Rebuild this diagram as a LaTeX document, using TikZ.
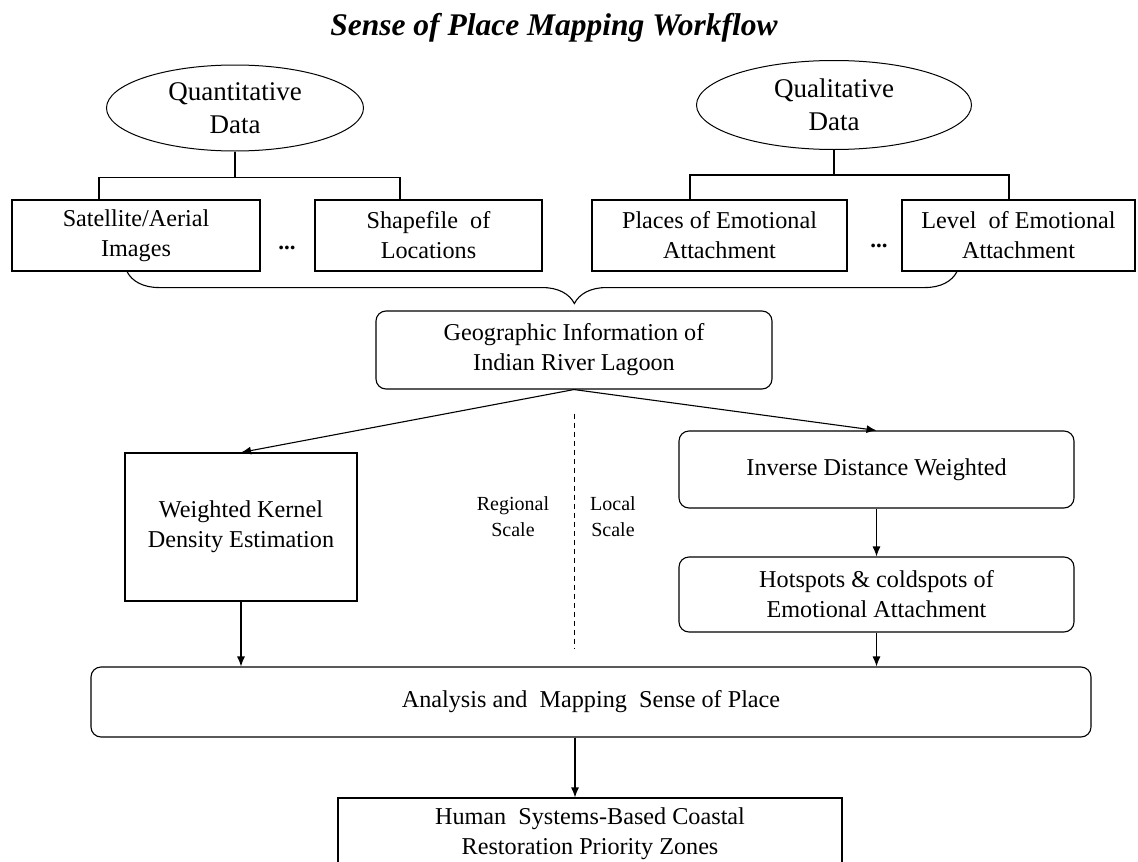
\documentclass[tikz,border=0pt]{standalone}
\usepackage{fontspec}
\setmainfont{Liberation Serif}
\usetikzlibrary{arrows.meta,shapes.geometric,decorations.pathreplacing}
\tikzset{
  heading/.style={
    text=black,
    font=\bfseries\itshape\fontsize{31.5}{36}\selectfont
  },
  bubble/.style={
    draw=black,
    ellipse,
    line width=1pt,
    inner sep=0pt,
    align=center,
    font=\fontsize{27}{33}\selectfont
  },
  source/.style={
    draw=black,
    line width=1.1pt,
    inner sep=0pt,
    minimum height=71pt,
    align=center,
    font=\fontsize{24.2}{30}\selectfont
  },
  stage/.style={
    source,
    rounded corners=10pt
  },
  gap/.style={
    font=\bfseries\fontsize{23}{30}\selectfont
  },
  scalelabel/.style={
    align=center,
    font=\fontsize{20}{26}\selectfont
  },
  link/.style={
    draw=black,
    line width=1.1pt
  },
  flow/.style={
    link,
    -{Latex[length=10pt,width=8pt]}
  },
  divider/.style={
    draw=black,
    line width=0.9pt,
    dash pattern=on 5pt off 4pt
  },
  bracket/.style={
    link,
    decorate,
    decoration={brace, mirror, amplitude=32pt, aspect=0.539}
  }
}

\begin{document}
\begin{tikzpicture}[x=1pt,y=-1pt]
  \clip (0,0) rectangle (1138,862);
  \fill[white] (0,0) rectangle (1138,862);

  \node[heading, anchor=base] (title) at (554,35) {Sense of Place Mapping Workflow};

  % data sources
  \node[bubble, minimum width=257pt, minimum height=86pt] (quant) at (235,108) {Quantitative\\Data};
  \node[bubble, minimum width=275pt, minimum height=89pt] (qual) at (834,105) {Qualitative\\Data};

  \node[source, minimum width=248pt] (sat) at (136,235.5) {Satellite/Aerial\\Images};
  \node[source, minimum width=227pt] (shp) at (428.5,235.5) {Shapefile\ \ of\\Locations};
  \node[source, minimum width=255pt] (plc) at (719.5,235.5) {Places of Emotional\\Attachment};
  \node[source, minimum width=233pt] (lvl) at (1018.5,235.5) {Level\ \ of Emotional\\Attachment};
  \node[gap, anchor=base] (quantdots) at (287,249) {...};
  \node[gap, anchor=base] (qualdots) at (879,247) {...};

  \draw[link] (quant.south) -- ++(0,26) coordinate (quantjoint);
  \draw[link] ([xshift=-37pt]sat.north) |- (quantjoint) -| ([xshift=-28.5pt]shp.north);
  \draw[link] (qual.south) -- ++(0,25) coordinate (qualjoint);
  \draw[link] ([xshift=-29.5pt]plc.north) |- (qualjoint) -| ([xshift=-9.5pt]lvl.north);

  \draw[bracket] ([xshift=-9pt]sat.south) -- ([xshift=-61.5pt]lvl.south);

  % processing
  \node[stage, minimum width=396pt, minimum height=78pt] (geo) at (574,350) {Geographic Information of\\Indian River Lagoon};
  \node[source, minimum width=232pt, minimum height=148pt] (wke) at (241,527) {Weighted Kernel\\Density Estimation};
  \node[stage, minimum width=395pt, minimum height=77pt] (idw) at (876.5,469.5) {Inverse Distance Weighted};
  \node[stage, minimum width=395pt, minimum height=75pt] (hot) at (876.5,594.5) {Hotspots \& coldspots of\\Emotional Attachment};

  \draw[divider] ([yshift=-24pt]geo.south) -- ++(0,235);
  \node[scalelabel] (regional) at (513,517) {Regional\\Scale};
  \node[scalelabel] (local) at (613,517) {Local\\Scale};

  \draw[flow] (geo.south) -- (wke.north);
  \draw[flow] (geo.south) -- (idw.north);
  \draw[flow] (idw.south) -- (hot.north);

  % outcome
  \node[stage, minimum width=1000pt, minimum height=70pt] (ana) at (591,702) {Analysis and\ \ Mapping\ \ Sense of Place};
  \node[source, minimum width=504pt, minimum height=72pt] (hum) at (590,834) {Human\ \ Systems-Based Coastal\\Restoration Priority Zones};

  \draw[flow] (wke.south) -- (wke.south |- ana.north);
  \draw[flow] (hot.south) -- (hot.south |- ana.north);
  \draw[flow] ([xshift=-16pt]ana.south) -- ([xshift=-16pt]ana.south |- hum.north);
\end{tikzpicture}
\end{document}
